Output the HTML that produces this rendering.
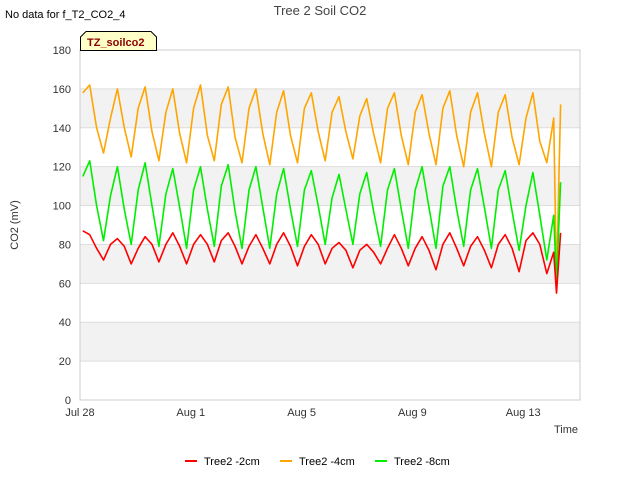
<!DOCTYPE html>
<html><head><meta charset="utf-8"><style>
body{margin:0;background:#fff;font-family:"Liberation Sans",sans-serif;}
svg text{font-family:"Liberation Sans",sans-serif;}
</style></head><body>
<svg id="chart" width="640" height="480" viewBox="0 0 640 480">
<rect x="0" y="0" width="640" height="480" fill="#fff"/>
<text x="5" y="18" font-size="11" fill="#000">No data for f_T2_CO2_4</text>
<text x="320" y="15" font-size="13" text-anchor="middle" fill="#444">Tree 2 Soil CO2</text>
<g id="bands"></g>
<g id="grid"></g>
<rect x="80" y="50" width="500" height="350" fill="none" stroke="#ccc"/>
<g id="yticks"></g>
<g id="xticks"></g>
<g id="series"></g>
<text x="18" y="225" font-size="11" fill="#333" text-anchor="middle" transform="rotate(-90 18 225)">CO2 (mV)</text>
<text x="578" y="433" font-size="11" fill="#333" text-anchor="end">Time</text>
<g>
<path d="M80.5,50.5 L80.5,37 L86,31.5 L151,31.5 L156.5,37 L156.5,50.5 Z" fill="#ffffc8" stroke="#000" stroke-width="1"/>
<text x="87" y="46" font-size="11" font-weight="bold" fill="#8b0000">TZ_soilco2</text>
</g>
<g id="legend"></g>
</svg>
<script>
const yTicks=[0,20,40,60,80,100,120,140,160,180];
const xTickLabels=["Jul 28","Aug 1","Aug 5","Aug 9","Aug 13"];
const xTickDays=[0,4,8,12,16];
const seriesNames=["Tree2 -2cm","Tree2 -4cm","Tree2 -8cm"];
const seriesColors=["#ff0000","#ffa500","#00ee00"];
// samples every 6h starting day 0.1; final three samples at endTimes
const endTimes=[17.1,17.2,17.35];
const red=[87,85,78,72, 80,83,79,70, 78,84,80,71, 80,86,79,70, 80,85,80,71, 82,86,79,70, 79,85,78,70, 80,86,79,69, 79,85,80,70, 78,81,77,68, 77,80,76,70, 78,85,78,69, 78,84,77,67, 80,86,78,69, 79,84,77,68, 80,85,78,66, 82,86,80,65, 76,55,86];
const orange=[158,162,140,127, 145,160,140,125, 150,161,138,123, 148,160,137,122, 150,162,136,123, 152,161,135,122, 150,160,137,121, 148,159,136,122, 150,158,138,123, 148,156,138,124, 146,155,137,122, 150,158,136,121, 148,157,137,121, 150,159,136,120, 148,158,137,120, 148,157,135,121, 145,158,133,122, 145,60,152];
const green=[115,123,100,82, 105,120,98,80, 108,122,100,79, 106,119,99,78, 108,120,98,79, 110,121,97,78, 108,120,99,78, 106,119,98,79, 108,118,100,80, 104,116,98,80, 106,117,97,79, 108,119,98,78, 108,120,99,78, 110,120,98,79, 108,119,99,78, 108,118,97,77, 100,117,95,72, 95,60,112];
const NS="http://www.w3.org/2000/svg";
const X0=80,X1=580,Y0=400,Y1=50,DAYS=18.05;
function xs(d){return X0+d*(X1-X0)/DAYS;}
function ys(v){return Y0-v*(Y0-Y1)/180;}
function tOf(i,n){const k=i-(n-endTimes.length);return k>=0?endTimes[k]:0.1+i*0.25;}
function mk(tag,attrs,parent){const e=document.createElementNS(NS,tag);for(const k in attrs)e.setAttribute(k,attrs[k]);parent.appendChild(e);return e;}
const bands=document.getElementById('bands'),grid=document.getElementById('grid'),yt=document.getElementById('yticks'),xt=document.getElementById('xticks');
for(let i=0;i<yTicks.length-1;i++){
 if(i%2===1){const b=mk('rect',{x:X0,y:ys(yTicks[i+1]),width:X1-X0,height:ys(yTicks[i])-ys(yTicks[i+1]),fill:'#f2f2f2'},bands);
 
 }
}
yTicks.forEach(v=>{
 const l=mk('line',{x1:X0,x2:X1,y1:ys(v),y2:ys(v),stroke:'#ddd'},grid);
 
 
 const t=mk('text',{x:71,y:ys(v)+4,'font-size':11,fill:'#333','text-anchor':'end'},yt);
 t.textContent=v;
 
 
});
xTickDays.forEach((d,i)=>{
 const t=mk('text',{x:xs(d),y:416,'font-size':11,fill:'#333','text-anchor':'middle'},xt);
 t.textContent=xTickLabels[i];
 
 
});
const sg=document.getElementById('series');
[orange,green,red].forEach((arr,k)=>{
 const idx=[1,2,0][k];
 const pts=arr.map((v,i)=>xs(tOf(i,arr.length)).toFixed(1)+','+ys(v).toFixed(1)).join(' ');
 const p=mk('polyline',{points:pts,fill:'none',stroke:seriesColors[idx],'stroke-width':1.6,'stroke-linejoin':'round'},sg);
 
 
});
const lg=document.getElementById('legend');
const lx=[185,280,375];
seriesNames.forEach((n,i)=>{
 const g=mk('g',{},lg);
 
 
 mk('line',{x1:lx[i],x2:lx[i]+12,y1:461,y2:461,stroke:seriesColors[i],'stroke-width':2},g);
 const t=mk('text',{x:lx[i]+19,y:465,'font-size':11,fill:'#000'},g);
 t.textContent=n;
});
</script>
</body></html>
